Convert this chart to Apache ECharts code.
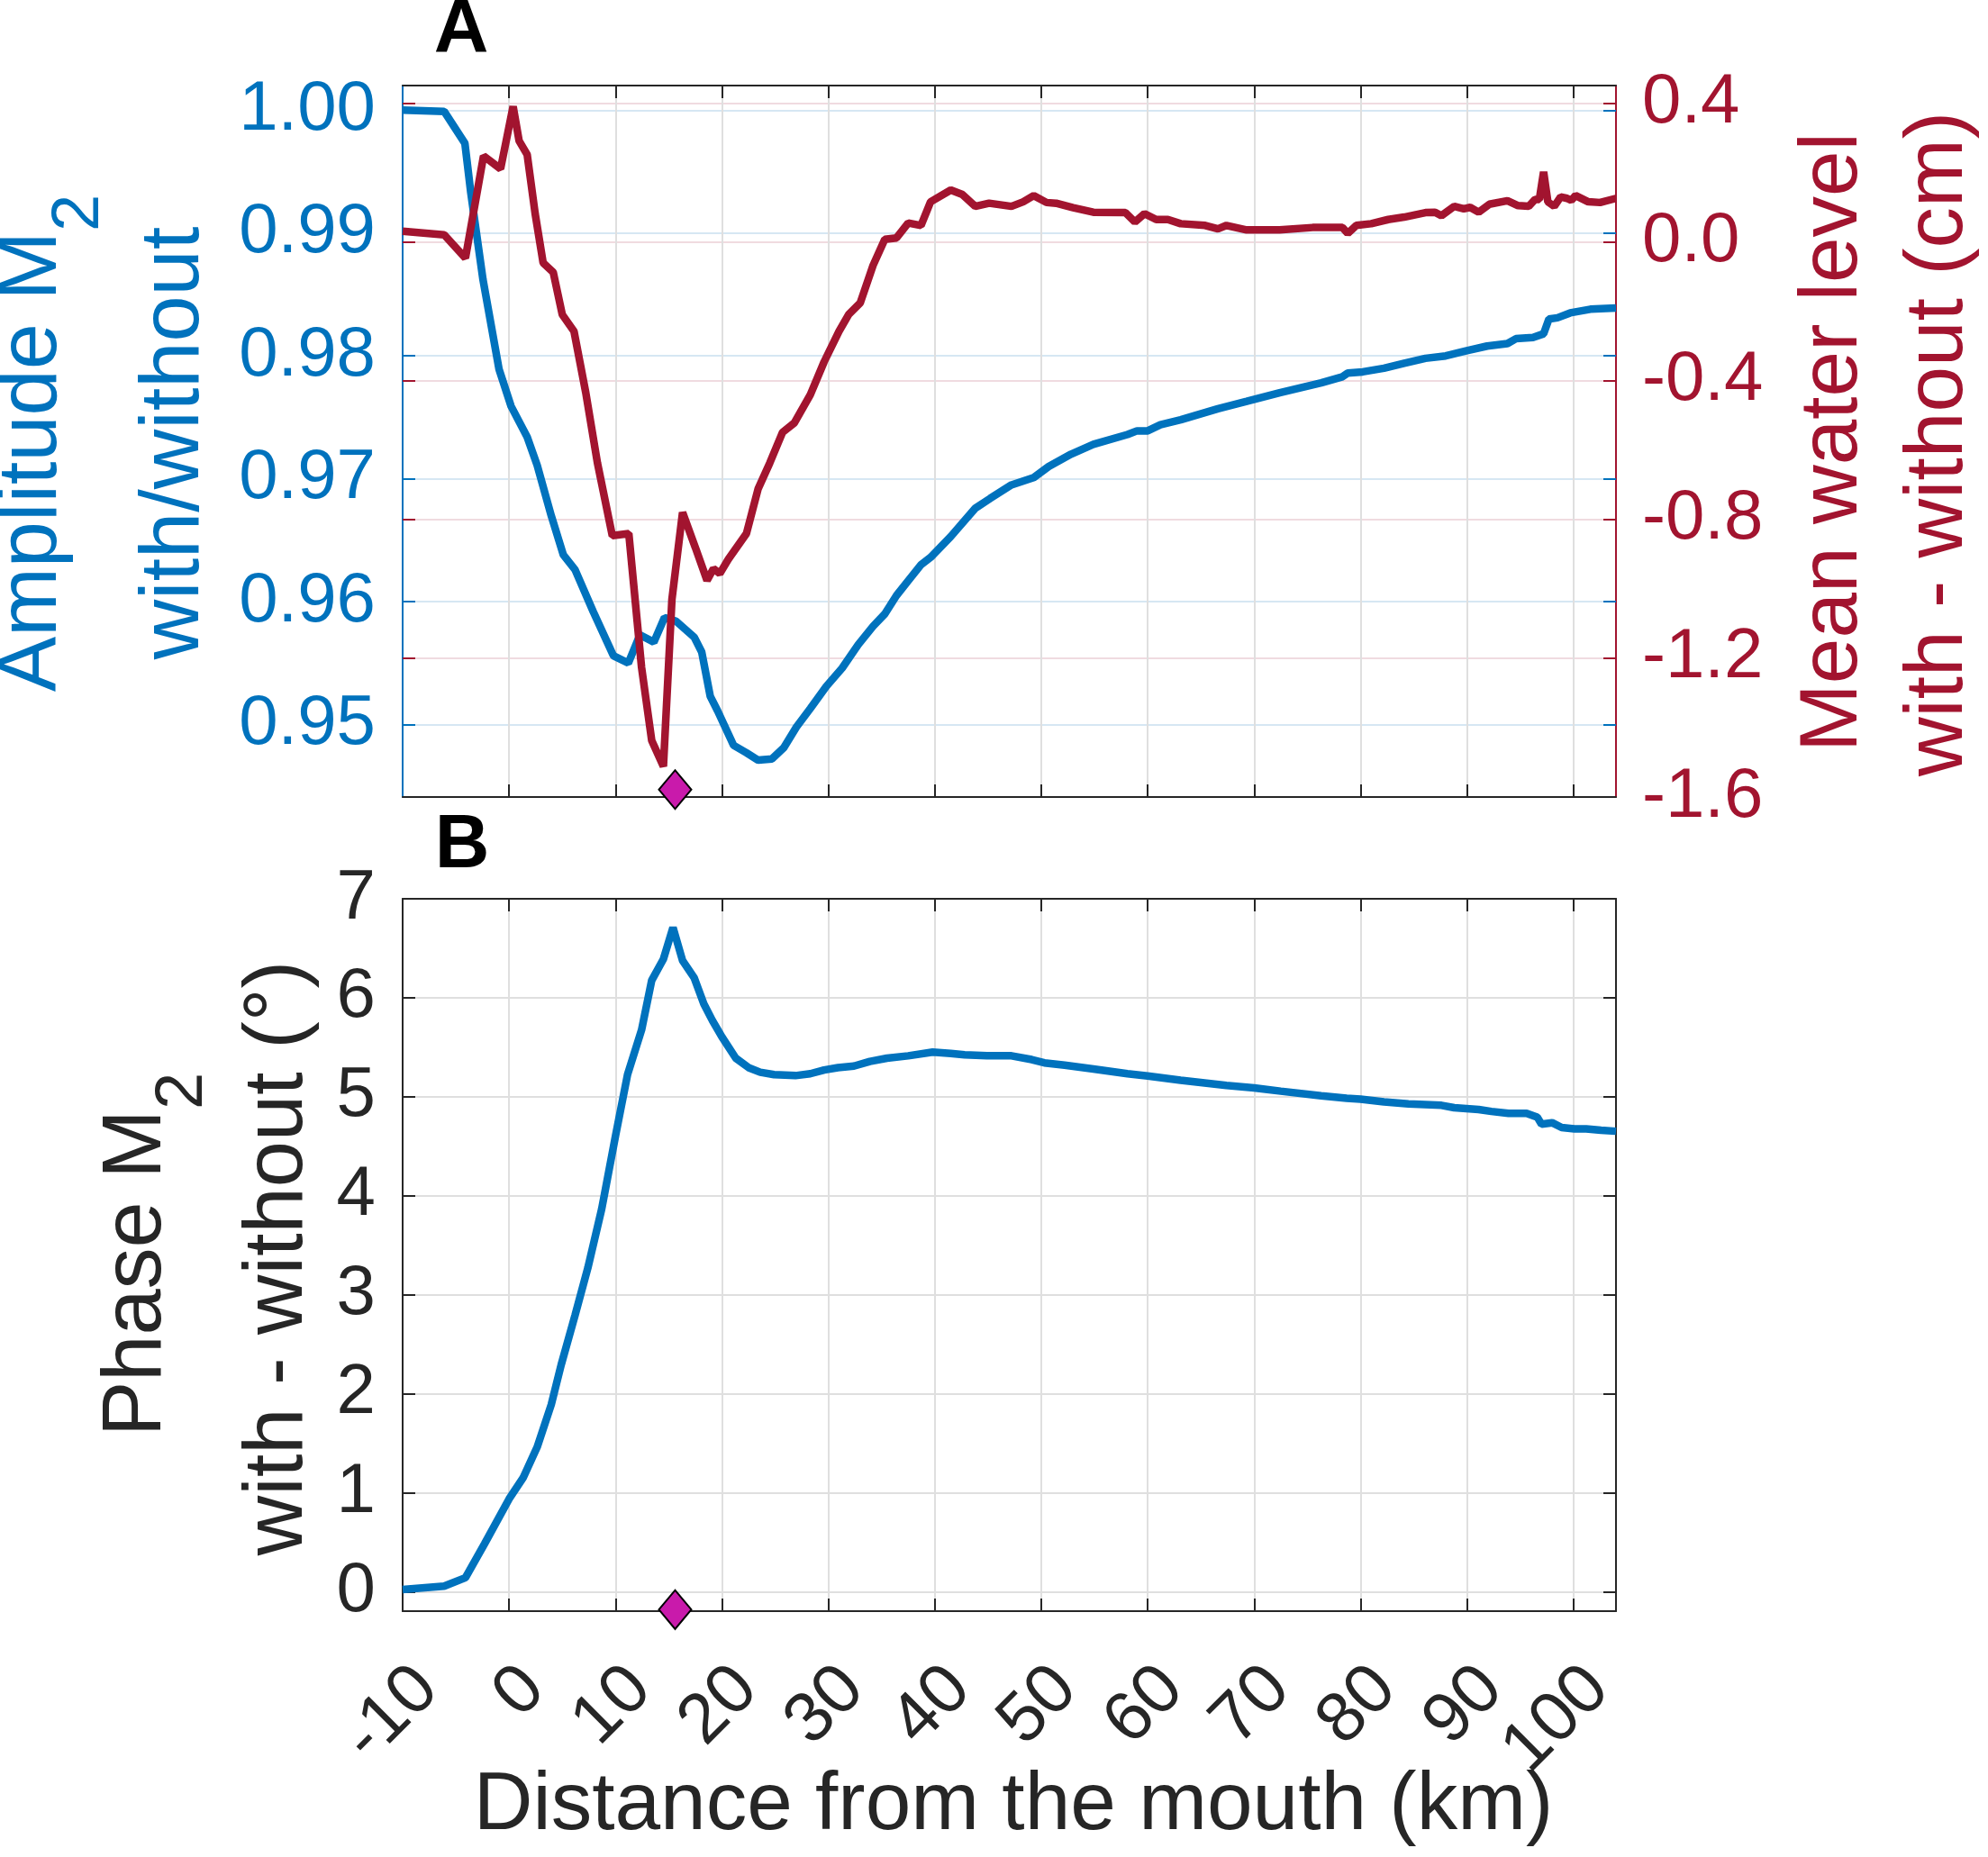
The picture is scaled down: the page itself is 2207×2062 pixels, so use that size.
<!DOCTYPE html>
<html>
<head>
<meta charset="utf-8">
<script src="https://cdn.jsdelivr.net/npm/echarts@6/dist/echarts.min.js"></script>
<style>
html,body{margin:0;padding:0;background:#fff;}
#chart{width:2207px;height:2062px;}
</style>
</head>
<body>
<div id="chart"></div>
<script>
// ---------- data ----------
const ampKm = [-10,-6.1,-4.15,-3.6,-2.45,-0.94,0.19,1.7,2.64,3.96,5.1,6.2,7.9,9.8,11.2,12.3,13.6,14.6,15.7,17.4,18.1,18.9,19.6,21.1,22.3,23.4,24.7,25.8,27.0,28.3,29.8,31.3,32.8,34.2,35.3,36.4,37.5,38.7,39.6,41.5,43.8,45.2,47.2,49.3,50.7,52.8,54.9,58.1,59.0,60.0,61.2,63.1,66.6,69.3,72.4,76.3,78.3,78.8,80.2,82.2,84.1,86.1,88.0,89.9,91.9,93.8,94.6,96.2,97.2,97.7,98.5,99.7,101.6,104.0];
const ampVal = [1.0000,0.9999,0.9973,0.9933,0.9862,0.9789,0.9759,0.9734,0.9711,0.9670,0.9638,0.9626,0.9592,0.9556,0.9550,0.9573,0.9567,0.9587,0.9584,0.9571,0.9559,0.9523,0.9511,0.9483,0.9477,0.9471,0.9472,0.9481,0.9498,0.9513,0.9531,0.9546,0.9565,0.9580,0.9590,0.9605,0.9617,0.9630,0.9636,0.9653,0.9676,0.9684,0.9695,0.9701,0.9710,0.9720,0.9728,0.9736,0.9739,0.9739,0.9744,0.9748,0.9757,0.9763,0.9770,0.9778,0.9783,0.9786,0.9787,0.9790,0.9794,0.9798,0.9800,0.9804,0.9808,0.9810,0.9814,0.9815,0.9818,0.9830,0.9831,0.9835,0.9838,0.9839];

const mwlKm = [-10,-6.1,-4.1,-2.4,-0.8,0.38,0.94,1.7,2.45,3.2,4.15,5.0,6.1,7.2,8.3,9.7,11.25,12.45,13.4,14.5,15.3,16.3,17.5,18.6,19.2,19.8,20.6,22.3,23.4,24.5,25.7,26.8,28.3,29.6,31.0,31.9,33.0,34.2,35.3,36.4,37.5,38.7,39.6,41.5,42.6,43.8,45.1,47.2,48.3,49.3,50.5,51.4,53.0,54.9,57.9,58.8,59.7,60.8,61.9,63.1,65.4,66.6,67.4,69.3,72.4,75.5,78.3,78.8,79.6,81.0,82.6,84.1,86.1,87.0,87.6,88.8,89.7,90.3,91.1,92.1,93.8,94.8,95.8,96.4,96.8,97.2,97.6,98.2,98.8,99.4,99.8,100.2,101.4,102.5,104.0];
const mwlVal = [0.030,0.020,-0.047,0.247,0.210,0.390,0.291,0.251,0.081,-0.061,-0.088,-0.210,-0.258,-0.434,-0.637,-0.847,-0.841,-1.227,-1.437,-1.512,-1.031,-0.780,-0.881,-0.976,-0.942,-0.956,-0.915,-0.841,-0.712,-0.637,-0.549,-0.522,-0.441,-0.346,-0.258,-0.210,-0.176,-0.068,0.007,0.011,0.054,0.047,0.115,0.149,0.136,0.102,0.111,0.102,0.115,0.133,0.113,0.111,0.098,0.085,0.084,0.057,0.081,0.064,0.064,0.052,0.047,0.037,0.047,0.034,0.034,0.041,0.041,0.024,0.047,0.052,0.064,0.071,0.084,0.085,0.075,0.102,0.095,0.099,0.085,0.108,0.118,0.104,0.102,0.122,0.122,0.201,0.115,0.102,0.129,0.125,0.119,0.133,0.115,0.113,0.125];

const phaseKm = [-10,-6.1,-4.1,-2.3,0.0,1.32,2.64,3.96,4.9,6.2,7.4,8.7,10.0,11.13,12.45,13.4,14.5,15.4,16.3,17.4,18.3,19.1,20.0,21.3,22.5,23.6,24.9,26.9,28.3,29.6,30.9,32.4,33.9,35.5,37.5,39.8,41.5,42.8,44.9,47.2,49.1,50.3,52.2,54.9,58.1,60.0,63.1,67.4,70.0,72.5,76.3,78.7,80.0,82.2,84.5,87.6,88.8,91.1,92.3,93.9,95.6,96.6,97.0,98.0,98.9,100.1,101.2,102.6,104.0];
const phaseVal = [0.024,0.057,0.143,0.486,0.938,1.152,1.462,1.890,2.295,2.795,3.271,3.867,4.605,5.224,5.676,6.176,6.390,6.710,6.376,6.200,5.938,5.771,5.605,5.390,5.295,5.248,5.224,5.214,5.233,5.271,5.295,5.310,5.357,5.390,5.414,5.452,5.438,5.424,5.414,5.414,5.376,5.343,5.319,5.281,5.233,5.210,5.167,5.114,5.090,5.057,5.010,4.986,4.976,4.948,4.929,4.914,4.890,4.871,4.852,4.833,4.833,4.795,4.724,4.738,4.690,4.676,4.676,4.662,4.652];

const markerKm = 15.6;
const markerAmpY = 0.9447;
const markerPhaseY = -0.18;

const xTicks = [-10,0,10,20,30,40,50,60,70,80,90,100];
const ampTicks = [0.95,0.96,0.97,0.98,0.99,1.00];
const mwlTicks = [-1.6,-1.2,-0.8,-0.4,0.0,0.4];
const phaseTicks = [0,1,2,3,4,5,6,7];

// ---------- style ----------
const FONT = '"Liberation Sans", Arial, Helvetica, sans-serif';
const BLUE = '#0072BD';
const RED = '#A2142F';
const DARK = '#262626';
const GRID_GRAY = '#dfdfdf';
const GRID_BLUE = '#d6e7f3';
const GRID_RED = '#f0dbe0';
const TICKF = 78;
const TITLEF = 92;
const SUBF = 74;
const LW = 8.5;

const X_MIN = -10, X_MAX = 104;
const AMP_MIN = 0.9441, AMP_MAX = 1.0020;
const MWL_MIN = -1.6, MWL_MAX = 0.45;
const PH_MIN = -0.195, PH_MAX = 7;

const inner = (arr, lo, hi) => arr.filter(v => v > lo + 1e-9 && v < hi - 1e-9);
const zip = (a, b) => a.map((v, i) => [v, b[i]]);

const ctx = document.createElement('canvas').getContext('2d');
function tw(t, font) { ctx.font = font; return ctx.measureText(t).width; }

function xAxisDef(grid, pos, opts) {
  return Object.assign({
    gridIndex: grid, type: 'value', position: pos, min: X_MIN, max: X_MAX, z: 5,
    axisLine: {show: true, onZero: false, lineStyle: {color: DARK, width: 2}},
    axisTick: {show: true, inside: true, length: 14, lineStyle: {color: DARK, width: 2}, customValues: inner(xTicks, X_MIN, X_MAX)},
    axisLabel: {show: false, customValues: xTicks},
    splitLine: {show: false}
  }, opts || {});
}
// grid-line-only x axis (drawn beneath the curves)
function xGridDef(grid) {
  return {
    gridIndex: grid, type: 'value', position: 'bottom', min: X_MIN, max: X_MAX, z: 0,
    axisLine: {show: false, onZero: false},
    axisTick: {show: false, customValues: inner(xTicks, X_MIN, X_MAX)},
    axisLabel: {show: false},
    splitLine: {show: true, lineStyle: {color: GRID_GRAY, width: 2}}
  };
}
function yAxisDef(grid, pos, min, max, ticks, color, opts) {
  return Object.assign({
    gridIndex: grid, type: 'value', position: pos, min: min, max: max,
    axisLine: {show: true, onZero: false, lineStyle: {color: color, width: 2}},
    axisTick: {show: true, inside: true, length: 14, lineStyle: {color: color, width: 2}, customValues: inner(ticks, min, max)},
    axisLabel: {show: false, customValues: ticks},
    splitLine: {show: false}
  }, opts || {});
}

function rotatedTitle(elements, main, sub, xMain, xSub, cy, color) {
  const fMain = TITLEF + 'px ' + FONT;
  const fSub = SUBF + 'px ' + FONT;
  const wm = tw(main, fMain);
  const ws = sub ? tw(sub, fSub) : 0;
  const start = cy + (wm + ws) / 2;
  elements.push({type: 'text', x: xMain, y: start, rotation: Math.PI / 2, z: 100,
    style: {text: main, font: fMain, fill: color, align: 'left', verticalAlign: 'middle', textAlign: 'left', textVerticalAlign: 'middle'}});
  if (sub) {
    elements.push({type: 'text', x: xSub, y: start - wm, rotation: Math.PI / 2, z: 100,
      style: {text: sub, font: fSub, fill: color, align: 'left', verticalAlign: 'middle', textAlign: 'left', textVerticalAlign: 'middle'}});
  }
}
function plainText(elements, text, x, y, font, color, rot) {
  elements.push({type: 'text', x: x, y: y, rotation: rot || 0, z: 100,
    style: {text: text, font: font, fill: color, align: 'center', verticalAlign: 'middle', textAlign: 'center', textVerticalAlign: 'middle'}});
}

const gElems = [];
rotatedTitle(gElems, 'Amplitude M', '2', 37, 89, 492, BLUE);
plainText(gElems, 'with/without', 195, 492, TITLEF + 'px ' + FONT, BLUE, Math.PI / 2);
plainText(gElems, 'Mean water level', 2036, 491, '91px ' + FONT, RED, Math.PI / 2);
plainText(gElems, 'with - without (cm)', 2153, 493, '91px ' + FONT, RED, Math.PI / 2);
rotatedTitle(gElems, 'Phase M', '2', 153, 204, 1393, DARK);
plainText(gElems, 'with - without (°)', 310, 1397, TITLEF + 'px ' + FONT, DARK, Math.PI / 2);
plainText(gElems, 'Distance from the mouth (km)', 1125, 2006, '91px ' + FONT, DARK, 0);
plainText(gElems, 'A', 512, 35, 'bold 84px ' + FONT, '#000', 0);
plainText(gElems, 'B', 513, 940, 'bold 84px ' + FONT, '#000', 0);

const chart = echarts.init(document.getElementById('chart'), null, {renderer: 'canvas'});
const option = {
  backgroundColor: '#fff',
  animation: false,
  grid: [
    {left: 447, top: 95, width: 1347, height: 790, outerBoundsMode: 'none', containLabel: false},
    {left: 447, top: 998, width: 1347, height: 791, outerBoundsMode: 'none', containLabel: false}
  ],
  xAxis: [
    xAxisDef(0, 'bottom'),                 // 0
    xAxisDef(0, 'top'),                    // 1
    xAxisDef(1, 'bottom', {                // 2
      axisLabel: {show: true, customValues: xTicks, rotate: 45, align: 'right', verticalAlign: 'top',
        margin: 47, color: DARK, fontSize: TICKF, fontFamily: FONT}
    }),
    xAxisDef(1, 'top'),                    // 3
    xGridDef(0),                           // 4
    xGridDef(1)                            // 5
  ],
  yAxis: [
    yAxisDef(0, 'left', AMP_MIN, AMP_MAX, ampTicks, BLUE, {
      axisLabel: {show: true, customValues: ampTicks, color: BLUE, fontSize: TICKF, fontFamily: FONT, margin: 30,
        formatter: v => Number(v).toFixed(2)},
      splitLine: {show: true, lineStyle: {color: GRID_BLUE, width: 2}}
    }),
    yAxisDef(0, 'right', MWL_MIN, MWL_MAX, mwlTicks, RED, {
      axisLabel: {show: true, customValues: mwlTicks, color: RED, fontSize: TICKF, fontFamily: FONT, margin: 29,
        formatter: v => Number(v).toFixed(1)},
      splitLine: {show: true, lineStyle: {color: GRID_RED, width: 2}}
    }),
    yAxisDef(0, 'right', AMP_MIN, AMP_MAX, ampTicks, BLUE, {axisLine: {show: false, onZero: false}}),
    yAxisDef(0, 'left', MWL_MIN, MWL_MAX, mwlTicks, RED, {axisLine: {show: false, onZero: false}}),
    yAxisDef(1, 'left', PH_MIN, PH_MAX, phaseTicks, DARK, {
      axisLabel: {show: true, customValues: phaseTicks, color: DARK, fontSize: TICKF, fontFamily: FONT, margin: 30},
      splitLine: {show: true, lineStyle: {color: GRID_GRAY, width: 2}}
    }),
    yAxisDef(1, 'right', PH_MIN, PH_MAX, phaseTicks, DARK)
  ],
  series: [
    {type: 'line', name: 'Amplitude', xAxisIndex: 0, yAxisIndex: 0, data: zip(ampKm, ampVal),
      showSymbol: false, symbol: 'none', lineStyle: {color: BLUE, width: LW}, itemStyle: {color: BLUE}, z: 3},
    {type: 'line', name: 'Mean water level', xAxisIndex: 0, yAxisIndex: 1, data: zip(mwlKm, mwlVal),
      showSymbol: false, symbol: 'none', lineStyle: {color: RED, width: LW}, itemStyle: {color: RED}, z: 4},
    {type: 'scatter', xAxisIndex: 0, yAxisIndex: 0, data: [[markerKm, markerAmpY]], symbol: 'diamond',
      symbolSize: [36, 43], itemStyle: {color: '#C91AAB', borderColor: '#000', borderWidth: 2, opacity: 1}, z: 6, clip: false},
    {type: 'line', name: 'Phase', xAxisIndex: 2, yAxisIndex: 4, data: zip(phaseKm, phaseVal),
      showSymbol: false, symbol: 'none', lineStyle: {color: BLUE, width: LW}, itemStyle: {color: BLUE}, z: 3},
    {type: 'scatter', xAxisIndex: 2, yAxisIndex: 4, data: [[markerKm, markerPhaseY]], symbol: 'diamond',
      symbolSize: [36, 43], itemStyle: {color: '#C91AAB', borderColor: '#000', borderWidth: 2, opacity: 1}, z: 6, clip: false}
  ],
  graphic: {elements: gElems}
};
chart.setOption(option);
</script>
</body>
</html>
